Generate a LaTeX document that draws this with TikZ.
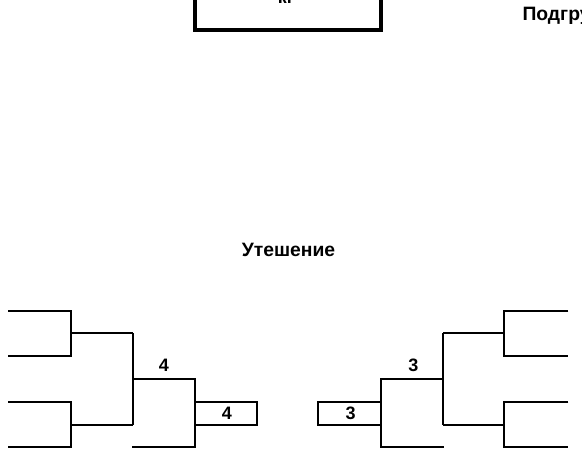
\documentclass[tikz,border=0pt]{standalone}
\usepackage{fontspec}
\setmainfont{Liberation Sans}
\begin{document}
\begin{tikzpicture}[x=0.75pt,y=-0.75pt,line width=1.5pt,
    lbl/.style={inner sep=0pt,font=\bfseries\fontsize{13.5}{16}\selectfont},
    ttl/.style={inner sep=0pt,font=\bfseries\fontsize{14.5}{17}\selectfont}]
    \useasboundingbox (0,0) rectangle (582,451);
    \clip (0,0) rectangle (582,451);
    % top part, cut off
    \draw[line width=3pt] (195.3,-10) -- (195.3,30.3) -- (380.5,30.3) -- (380.5,-10);
    \node[lbl,anchor=base] (kg) at (286,3) {кг};
    \node[ttl,anchor=base west] (podgr) at (521.5,20) {Подгруппа};
    \node[ttl] (utesh) at (288.5,249.5) {Утешение};
    % left bracket
    \foreach \y in {310.7,401.7} \draw (8,\y) -- (71,\y) -- (71,\y+45.6) -- (8,\y+45.6);
    \foreach \y in {333.3,425} \draw (71,\y) -- (133,\y);
    \draw (133,333.3) -- (133,425);
    \draw (133,379) -- (195,379) -- (195,447.3) -- (132,447.3);
    \draw (195,401.7) rectangle (257,425);
    \node[lbl] (sf4) at (164,365.5) {4};
    \node[lbl] (box4) at (227,413) {4};
    % right bracket
    \foreach \y in {310.7,401.7} \draw (568.3,\y) -- (504.3,\y) -- (504.3,\y+45.6) -- (568.3,\y+45.6);
    \foreach \y in {333.3,425} \draw (504.3,\y) -- (443.3,\y);
    \draw (443.3,333.3) -- (443.3,425);
    \draw (443.3,379) -- (380.7,379) -- (380.7,447.3) -- (444,447.3);
    \draw (318.3,401.7) rectangle (380.7,425);
    \node[lbl] (sf3) at (413.3,365.5) {3};
    \node[lbl] (box3) at (350.7,413) {3};
\end{tikzpicture}
\end{document}
